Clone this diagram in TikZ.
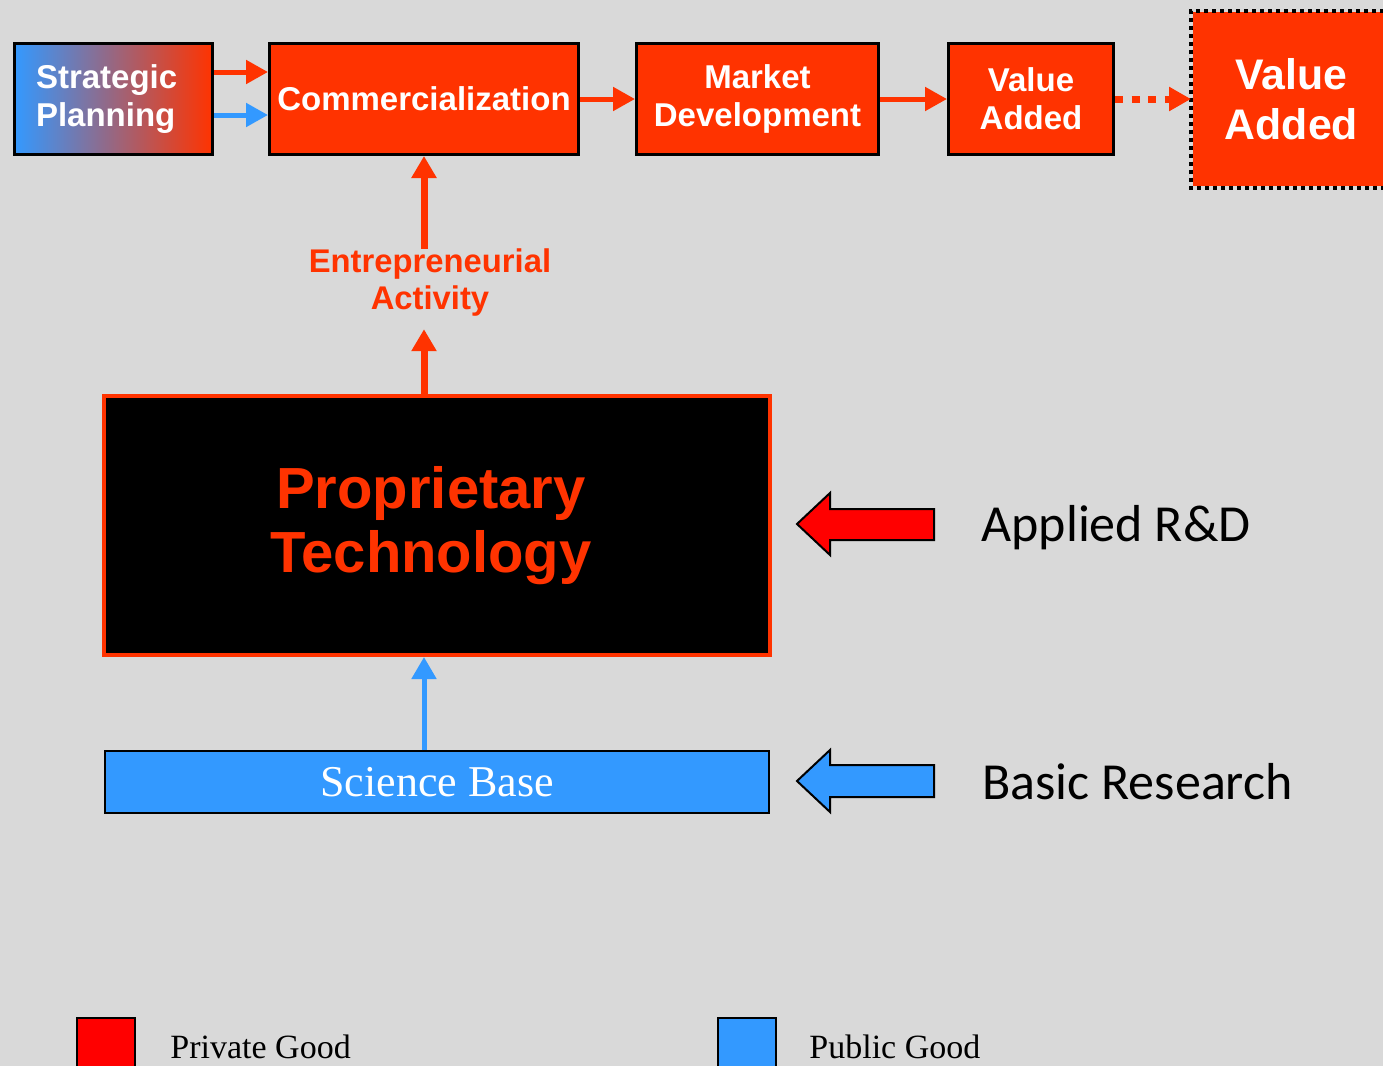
\documentclass[tikz,border=0pt]{standalone}
\usepackage{fontspec}
\setmainfont{Liberation Sans}
\newfontfamily\serifface{Liberation Serif}
\newfontfamily\calibface{Carlito}
\usetikzlibrary{arrows.meta,positioning}

\definecolor{orangered}{HTML}{FF3300}
\definecolor{skyblue}{HTML}{3399FF}
\definecolor{bggray}{HTML}{D9D9D9}
\definecolor{pureRed}{HTML}{FF0000}

\begin{document}
\begin{tikzpicture}[
    x=0.5pt, y=-0.5pt,
    flowbox/.style={draw, line width=1.5pt, fill=orangered, text=white, align=center, inner sep=0pt,
      minimum height=55.5pt, font=\fontsize{16.5}{19}\selectfont\bfseries},
    flowarrow/.style={orangered, line width=2.5pt, -{Triangle[length=11pt,width=11.5pt]}},
    uparrow/.style={line width=3.5pt, -{Triangle[length=11pt,width=12pt]}},
    blockarrow/.style={draw=black, line width=1pt},
    sidelabel/.style={anchor=west, inner sep=0pt, font=\calibface\fontsize{26}{30}\selectfont},
    legsq/.style={draw=black, line width=1pt, minimum width=29pt, minimum height=30pt, inner sep=0pt},
    legtext/.style={anchor=base west, inner sep=0pt, font=\serifface\fontsize{17}{20}\selectfont}
  ]
    \fill[bggray] (0,0) rectangle (1383,1066);
    \useasboundingbox (0,0) rectangle (1383,1066);

    % top chain
    \node[flowbox, text width=77.5pt, inner xsep=10.75pt, align=left, left color=skyblue, right color=orangered] (strat) at (113.5,99) {Strategic\\Planning};
    \node[flowbox, minimum width=154.5pt, right=27pt of strat] (comm) {Commercialization};
    \node[flowbox, minimum width=121pt, right=27.5pt of comm] (mkt) {Market\\Development};
    \node[flowbox, minimum width=82.5pt, right=33.5pt of mkt] (val) {Value\\Added};
    \node[flowbox, draw=none, minimum width=99pt, minimum height=87pt, right=38pt of val,
      font=\fontsize{21.4}{25}\selectfont\bfseries] (bigval) {Value\\Added};
    \draw[line width=2pt, dash pattern=on 2pt off 2pt] (bigval.north east) -- (bigval.north west)
      -- (bigval.south west) -- (bigval.south east);

    \draw[flowarrow] ([yshift=13.5pt]strat.east) -- ([yshift=13.5pt]comm.west);
    \draw[flowarrow, skyblue] ([yshift=-8pt]strat.east) -- ([yshift=-8pt]comm.west);
    \draw[flowarrow] (comm) -- (mkt);
    \draw[flowarrow] (mkt) -- (val);
    \draw[flowarrow, line width=3.5pt, dash pattern=on 4pt off 4.3pt] (val) -- (bigval);

    % middle
    \node[align=center, inner sep=0pt, text=orangered, font=\fontsize{16.4}{18.5}\selectfont\bfseries] (entre) at (430,283) {Entrepreneurial\\Activity};
    \node[draw=orangered, line width=2pt, fill=black, text=orangered, align=center,
      minimum width=333pt, minimum height=129.5pt, font=\fontsize{29}{32}\selectfont\bfseries] (prop) at (437,525.5) {Proprietary\hspace*{6pt}\\Technology\hspace*{6pt}};
    \node[draw=black, line width=1pt, fill=skyblue, text=white, minimum width=332pt, minimum height=31pt,
      inner sep=0pt, below=46.5pt of prop, font=\serifface\fontsize{22}{26}\selectfont] (sci) {Science Base};

    \draw[uparrow, orangered] (entre.north -| comm.south) -- (comm.south);
    \draw[uparrow, orangered, shorten >=6pt] (prop.north -| comm.south) -- (entre.south -| comm.south);
    \draw[uparrow, skyblue, line width=2.5pt] (sci.north -| comm.south) -- (prop.south -| comm.south);

    % side arrows
    \draw[blockarrow, fill=pureRed] (797,524) -- (830,493) -- (830,509) -- (934,509) -- (934,540)
      -- (830,540) -- (830,555) -- cycle;
    \draw[blockarrow, fill=skyblue] (797,781) -- (830,750) -- (830,765) -- (934,765) -- (934,797)
      -- (830,797) -- (830,812) -- cycle;
    \node[sidelabel] (applied) at (981,528) {Applied R\&D};
    \node[sidelabel] (basic) at (982,782) {Basic Research};

    % legend
    \node[legsq, fill=pureRed] (privsq) at (106,1048) {};
    \node[legsq, fill=skyblue] (pubsq) at (747,1048) {};
    \node[legtext] (privtxt) at (170,1058) {Private Good};
    \node[legtext] (pubtxt) at (809,1058) {Public Good};
\end{tikzpicture}
\end{document}
